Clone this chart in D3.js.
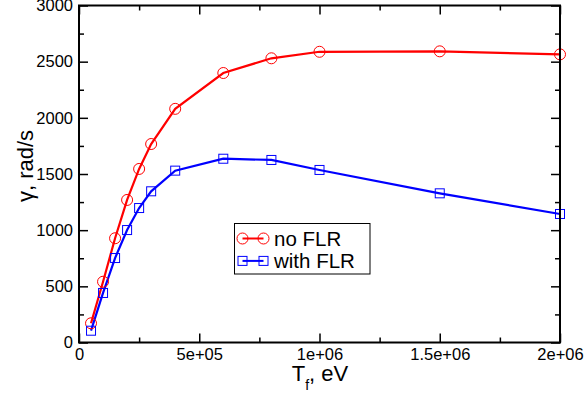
<!DOCTYPE html>
<html>
<head>
<meta charset="utf-8">
<script src="https://cdn.jsdelivr.net/npm/d3@7"></script>
<style>
    body { margin: 0; background: #fff; }
    svg text { font-family: "Liberation Sans", Arial, sans-serif; fill: #000; }
</style>
</head>
<body>
<div id="chart"></div>
<script>
'use strict';

// ------------ DATA ---------------- //

const temperatures = [5e4, 1e5, 1.5e5, 2e5, 2.5e5, 3e5, 4e5, 6e5, 8e5, 1e6, 1.5e6, 2e6];
const noFLR        = [171, 541, 928, 1269, 1545, 1767, 2080, 2399, 2530, 2588, 2592, 2565];
const withFLR      = [105, 441, 752, 1001, 1197, 1346, 1530, 1636, 1625, 1536, 1328, 1144];

const xTicks       = [0, 5e5, 1e6, 1.5e6, 2e6];
const xTickLabels  = ['0', '5e+05', '1e+06', '1.5e+06', '2e+06'];
const yTicks       = [0, 500, 1000, 1500, 2000, 2500, 3000];
const xMinorTicks  = [2.5e5, 7.5e5, 1.25e6, 1.75e6];
const yMinorTicks  = [250, 750, 1250, 1750, 2250, 2750];

const seriesNames  = ['no FLR', 'with FLR'];

// ------------ LAYOUT ---------------- //

const WIDTH  = 584;
const HEIGHT = 401;
const MARGIN = {left: 79, right: 24, top: 5.5, bottom: 58.5};

const drawChart = () => {
    const plotW = WIDTH - MARGIN.left - MARGIN.right;
    const plotH = HEIGHT - MARGIN.top - MARGIN.bottom;

    const svg = d3.select('#chart')
        .append('svg')
        .attr('width', WIDTH)
        .attr('height', HEIGHT);

    const g = svg.append('g')
        .attr('transform', `translate(${MARGIN.left},${MARGIN.top})`);

    const x = d3.scaleLinear().domain([0, 2e6]).range([0, plotW]);
    const y = d3.scaleLinear().domain([0, 3000]).range([plotH, 0]);

    const styleAxis = (sel, withText) => {
        sel.select('.domain').remove();
        sel.selectAll('line').attr('stroke', '#000').attr('stroke-width', 1.5);
        sel.selectAll('text').style('font-size', '16.5px').attr('fill', '#000');
        if(!withText) sel.selectAll('text').remove();
    };

    // major ticks, all four sides pointing inward
    g.append('g')
        .attr('transform', `translate(0,${plotH})`)
        .call(d3.axisBottom(x).tickValues(xTicks).tickSize(-9).tickPadding(6)
            .tickFormat((d, i) => xTickLabels[i]))
        .call(s => styleAxis(s, true));
    g.append('g')
        .call(d3.axisTop(x).tickValues(xTicks).tickSize(-9).tickFormat(''))
        .call(s => styleAxis(s, false));
    g.append('g')
        .call(d3.axisLeft(y).tickValues(yTicks).tickSize(-9).tickPadding(6)
            .tickFormat(d3.format('d')))
        .call(s => styleAxis(s, true));
    g.append('g')
        .attr('transform', `translate(${plotW},0)`)
        .call(d3.axisRight(y).tickValues(yTicks).tickSize(-9).tickFormat(''))
        .call(s => styleAxis(s, false));

    // minor ticks
    g.append('g')
        .attr('transform', `translate(0,${plotH})`)
        .call(d3.axisBottom(x).tickValues(xMinorTicks).tickSize(-5).tickFormat(''))
        .call(s => styleAxis(s, false));
    g.append('g')
        .call(d3.axisTop(x).tickValues(xMinorTicks).tickSize(-5).tickFormat(''))
        .call(s => styleAxis(s, false));
    g.append('g')
        .call(d3.axisLeft(y).tickValues(yMinorTicks).tickSize(-5).tickFormat(''))
        .call(s => styleAxis(s, false));
    g.append('g')
        .attr('transform', `translate(${plotW},0)`)
        .call(d3.axisRight(y).tickValues(yMinorTicks).tickSize(-5).tickFormat(''))
        .call(s => styleAxis(s, false));

    // series
    const line = d3.line()
        .x(d => x(d.t))
        .y(d => y(d.v));

    const redData  = temperatures.map((t, i) => ({t, v: noFLR[i]}));
    const blueData = temperatures.map((t, i) => ({t, v: withFLR[i]}));

    g.append('path')
        .datum(redData)
        .attr('d', line)
        .attr('fill', 'none')
        .attr('stroke', '#ff0000')
        .attr('stroke-width', 2.2);

    g.append('path')
        .datum(blueData)
        .attr('d', line)
        .attr('fill', 'none')
        .attr('stroke', '#0000ff')
        .attr('stroke-width', 2.2);

    g.selectAll('.m-red')
        .data(redData)
        .enter()
        .append('circle')
        .attr('class', 'm-red')
        .attr('cx', d => x(d.t))
        .attr('cy', d => y(d.v))
        .attr('r', 5.5)
        .attr('fill', 'none')
        .attr('stroke', '#ff0000')
        .attr('stroke-width', 1);

    g.selectAll('.m-blue')
        .data(blueData)
        .enter()
        .append('rect')
        .attr('class', 'm-blue')
        .attr('x', d => x(d.t) - 4.5)
        .attr('y', d => y(d.v) - 4.5)
        .attr('width', 9)
        .attr('height', 9)
        .attr('fill', 'none')
        .attr('stroke', '#0000ff')
        .attr('stroke-width', 1);

    // frame
    g.append('rect')
        .attr('width', plotW)
        .attr('height', plotH)
        .attr('fill', 'none')
        .attr('stroke', '#000')
        .attr('stroke-width', 2);

    // axis titles
    const xTitle = svg.append('text')
        .attr('x', 320)
        .attr('y', 381)
        .attr('text-anchor', 'middle')
        .style('font-size', '22px');
    xTitle.append('tspan').text('T');
    xTitle.append('tspan').attr('dy', 9).style('font-size', '14px').text('f');
    xTitle.append('tspan').attr('dy', -9).text(', eV');

    svg.append('text')
        .attr('transform', 'translate(33,166) rotate(-90)')
        .attr('text-anchor', 'middle')
        .style('font-size', '22px')
        .text('γ, rad/s');

    // legend
    const legend = svg.append('g').attr('transform', 'translate(234.5,223.5)');
    legend.append('rect')
        .attr('width', 135.5)
        .attr('height', 50.5)
        .attr('fill', '#fff')
        .attr('stroke', '#000')
        .attr('stroke-width', 1);

    const colors = ['#ff0000', '#0000ff'];
    seriesNames.forEach((name, i) => {
        const row = legend.append('g').attr('transform', `translate(0,${15 + i * 22.4})`);
        row.append('line')
            .attr('x1', 8).attr('x2', 29)
            .attr('stroke', colors[i]).attr('stroke-width', 2);
        [8, 29].forEach(cx => {
            if(i === 0) {
                row.append('circle').attr('cx', cx).attr('r', 5.5)
                    .attr('fill', 'none').attr('stroke', colors[i]).attr('stroke-width', 1);
            } else {
                row.append('rect').attr('x', cx - 4.5).attr('y', -4.5)
                    .attr('width', 9).attr('height', 9)
                    .attr('fill', 'none').attr('stroke', colors[i]).attr('stroke-width', 1);
            }
        });
        row.append('text')
            .attr('x', 39.5)
            .attr('y', 7.5)
            .style('font-size', '20.5px')
            .text(name);
    });
};

// --------------------   MAIN   ------------------- //

document.addEventListener('DOMContentLoaded', drawChart);
</script>
</body>
</html>
